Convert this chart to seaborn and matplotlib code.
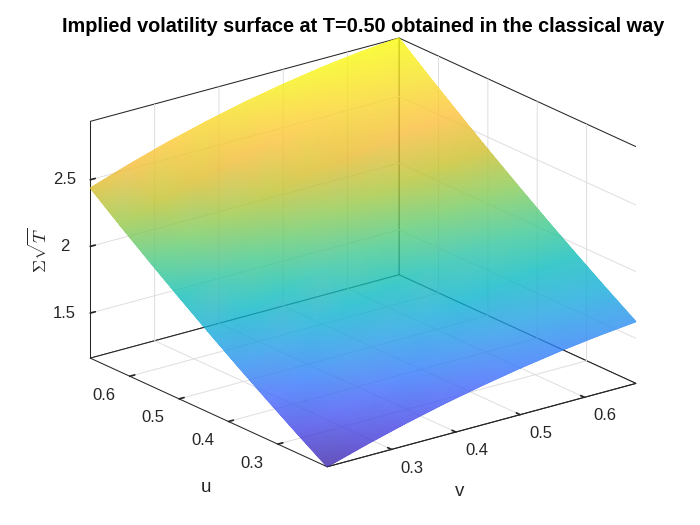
import numpy as np
import matplotlib
matplotlib.use("Agg")
import matplotlib.pyplot as plt
import matplotlib.tri as mtri
import matplotlib.transforms as mtransforms
import seaborn as sns

# ---- data ----
u_vals = [0.20, 0.26, 0.32, 0.38, 0.44, 0.50, 0.56, 0.62, 0.68]
v_vals = [0.20, 0.26, 0.32, 0.38, 0.44, 0.50, 0.56, 0.62, 0.68]
# Sigma*sqrt(T), one list per u value, entries along v
z_u020 = [1.162, 1.248, 1.326, 1.396, 1.457, 1.511, 1.557, 1.595, 1.625]
z_u026 = [1.305, 1.392, 1.471, 1.542, 1.604, 1.658, 1.704, 1.742, 1.772]
z_u032 = [1.453, 1.541, 1.621, 1.693, 1.756, 1.810, 1.857, 1.894, 1.924]
z_u038 = [1.605, 1.695, 1.776, 1.849, 1.912, 1.967, 2.014, 2.051, 2.080]
z_u044 = [1.762, 1.853, 1.936, 2.009, 2.074, 2.129, 2.176, 2.213, 2.242]
z_u050 = [1.924, 2.017, 2.100, 2.175, 2.240, 2.296, 2.343, 2.380, 2.408]
z_u056 = [2.090, 2.185, 2.270, 2.345, 2.411, 2.468, 2.515, 2.552, 2.580]
z_u062 = [2.261, 2.358, 2.444, 2.521, 2.588, 2.645, 2.692, 2.729, 2.756]
z_u068 = [2.438, 2.536, 2.624, 2.701, 2.769, 2.826, 2.874, 2.911, 2.938]

u_ticks = [0.3, 0.4, 0.5, 0.6]
v_ticks = [0.3, 0.4, 0.5, 0.6]
z_ticks = [1.5, 2, 2.5]
u_ticklabels = ["0.3", "0.4", "0.5", "0.6"]
v_ticklabels = ["0.3", "0.4", "0.5", "0.6"]
z_ticklabels = ["1.5", "2", "2.5"]

title_text = "Implied volatility surface at T=0.50 obtained in the classical way"
xlabel_text = "v"
ylabel_text = "u"
zlabel_text = r"$\Sigma\sqrt{T}$"

# ---- style ----
sns.set_theme(style="white")
plt.rcParams['font.family'] = ['Liberation Sans', 'DejaVu Sans']
plt.rcParams['mathtext.fontset'] = 'cm'

parula_anchor = [
    (0.2422, 0.1504, 0.6603), (0.2706, 0.2147, 0.8364), (0.2813, 0.3006, 0.9414),
    (0.2699, 0.3892, 0.9906), (0.1963, 0.4847, 0.9892), (0.1687, 0.5703, 0.9359),
    (0.1248, 0.6459, 0.8883), (0.0297, 0.7082, 0.8163), (0.0433, 0.7411, 0.7394),
    (0.1717, 0.7670, 0.6554), (0.2906, 0.7973, 0.5188), (0.4456, 0.8024, 0.3909),
    (0.6174, 0.7876, 0.2612), (0.7738, 0.7598, 0.1646), (0.9035, 0.7330, 0.1774),
    (0.9956, 0.7434, 0.2371), (0.9892, 0.8136, 0.1885), (0.9707, 0.8851, 0.1506),
    (0.9684, 0.9551, 0.0988), (0.9763, 0.9831, 0.0538)]
parula = sns.blend_palette(parula_anchor, n_colors=256, as_cmap=True)
face_alpha = 0.8

Z = np.array([z_u020, z_u026, z_u032, z_u038, z_u044, z_u050, z_u056, z_u062, z_u068])
V, U = np.meshgrid(v_vals, u_vals)
nu, nv = Z.shape

W, H = 700, 525
fig = plt.figure(figsize=(W / 100, H / 100), dpi=100)
side = 600
cx, cy = 355.0, H - 260.5
ax = fig.add_axes([(cx - side / 2) / W, (cy - side / 2) / H, side / W, side / H],
                  projection='3d')
ax.set_proj_type('ortho')
ax.view_init(elev=20.6, azim=-127.5)
ax.set_box_aspect((1, 1, 0.65), zoom=0.98)

ax.set_xlim(min(v_vals), max(v_vals))
ax.set_ylim(min(u_vals), max(u_vals))
ax.set_zlim(Z.min(), Z.max())

ax.set_xticks(v_ticks, v_ticklabels)
ax.set_yticks(u_ticks, u_ticklabels)
ax.set_zticks(z_ticks, z_ticklabels)

# ---- surface: project the data grid with the axes' own 3D projection,
#      then draw it with smooth (Gouraud) colour interpolation ----
M = ax.get_proj()
pts = np.vstack([V.ravel(), U.ravel(), Z.ravel(), np.ones(Z.size)])
pw = M @ pts
px, py = pw[0] / pw[3], pw[1] / pw[3]
tris = []
for i in range(nu - 1):
    for j in range(nv - 1):
        k = i * nv + j
        tris.append([k, k + 1, k + nv + 1])
        tris.append([k, k + nv + 1, k + nv])
triang = mtri.Triangulation(px, py, np.array(tris))
mesh = ax.tripcolor(triang, Z.ravel(), shading='gouraud', cmap=parula,
                    vmin=Z.min(), vmax=Z.max())
mesh.do_3d_projection = lambda: 0.0
mesh.set_clip_on(False)


def uniform_alpha(img, dpi):
    # render the opaque surface off-screen, then apply one face alpha to it
    out = img.copy()
    out[..., 3] = face_alpha * np.clip(img[..., 3] / 0.7, 0, 1)
    return out, 0, 0


mesh.set_agg_filter(uniform_alpha)

# ---- axes box, grid, ticks ----
dark = (0.15, 0.15, 0.15)
for axis in (ax.xaxis, ax.yaxis, ax.zaxis):
    axis.set_pane_color((1, 1, 1, 1))
    axis.pane.set_edgecolor(dark)
    axis.pane.set_linewidth(0.75)
    axis.line.set_color(dark)
    axis.line.set_linewidth(0.75)
    axis._axinfo['grid'].update(color=(0.87, 0.87, 0.87), linewidth=0.7)
    axis._axinfo['tick'].update(inward_factor=0.0, outward_factor=0.2)
ax.grid(True)
ax.tick_params(axis='both', labelsize=12, colors=dark)


def shift_ticklabels(axis, dx_px, dy_px):
    offset = mtransforms.ScaledTranslation(dx_px / 100, dy_px / 100, fig.dpi_scale_trans)
    original = axis.get_major_ticks

    def patched(numticks=None):
        ticks = original(numticks)
        for t in ticks:
            t.label1.set_transform(ax.transData + offset)
        return ticks

    axis.get_major_ticks = patched


shift_ticklabels(ax.yaxis, -10, 5)
shift_ticklabels(ax.xaxis, 8.5, 6.5)
shift_ticklabels(ax.zaxis, 2, 6)

# ---- labels and title ----
fig.text(39 / W, 1 - 250 / H, zlabel_text, rotation=90, ha='center', va='center',
         fontsize=13, color=dark)
fig.text(206 / W, 1 - 488 / H, ylabel_text, ha='center', va='center',
         fontsize=13.5, color=dark)
fig.text(460 / W, 1 - 492 / H, xlabel_text, ha='center', va='center',
         fontsize=13.5, color=dark)
fig.text(363.5 / W, 1 - 27 / H, title_text, ha='center', va='center',
         fontsize=14.3, fontweight='bold', color='black')

fig.savefig("out.png", dpi=100)
